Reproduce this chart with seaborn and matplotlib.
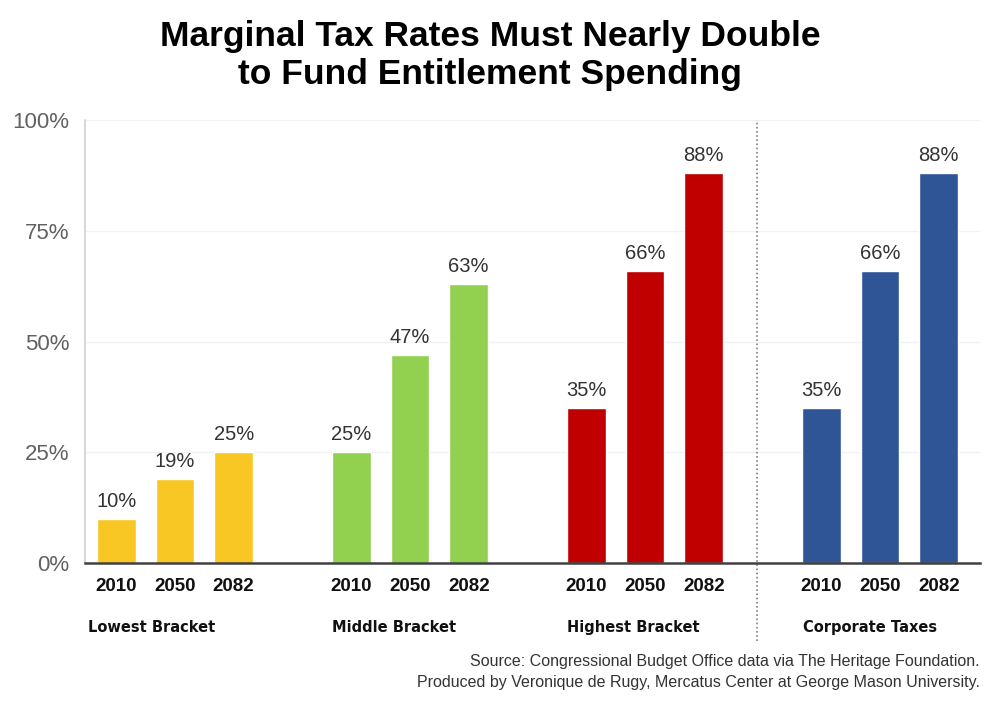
import matplotlib
matplotlib.use("Agg")
import matplotlib.pyplot as plt
import matplotlib.transforms as mtransforms
import seaborn as sns
import pandas as pd

# ---- data ----
groups = ["Lowest Bracket", "Middle Bracket", "Highest Bracket", "Corporate Taxes"]
years = ["2010", "2050", "2082"]
lowest = [10, 19, 25]
middle = [25, 47, 63]
highest = [35, 66, 88]
corporate = [35, 66, 88]
ytick_vals = [0, 25, 50, 75, 100]
ytick_labels = ["0%", "25%", "50%", "75%", "100%"]
colors = ["#F9C724", "#92D050", "#C00000", "#2F5597"]
title = "Marginal Tax Rates Must Nearly Double\nto Fund Entitlement Spending"
source_lines = ["Source: Congressional Budget Office data via The Heritage Foundation.",
                "Produced by Veronique de Rugy, Mercatus Center at George Mason University."]

series = [lowest, middle, highest, corporate]
rows = []
for g, (gname, vals) in enumerate(zip(groups, series)):
    for i, (yr, v) in enumerate(zip(years, vals)):
        rows.append({"pos": 4 * g + i, "group": gname, "year": yr, "value": v})
df = pd.DataFrame(rows)

sns.set_theme(style="white")
plt.rcParams["font.family"] = ["Liberation Sans", "DejaVu Sans"]

fig = plt.figure(figsize=(10, 7.21), dpi=100)
ax = fig.add_axes([0.085, 0.219, 0.895, 0.6144])

sns.barplot(data=df, x="pos", y="value", hue="group", hue_order=groups,
            palette=colors, native_scale=True, dodge=False, width=0.66,
            saturation=1, legend=False, ax=ax)

ax.set_xlim(-0.53, 14.7)
ax.set_ylim(0, 100)
ax.set_yticks(ytick_vals)
ax.set_yticklabels(ytick_labels, fontsize=16, color="#616161")
ax.set_xticks(df["pos"].tolist())
ax.set_xticklabels(df["year"].tolist(), fontsize=13.5, fontweight="bold", color="#111111")
ax.tick_params(axis="x", length=0, pad=11)
ax.tick_params(axis="y", length=0, pad=11)
ax.set_xlabel("")
ax.set_ylabel("")

for v in ytick_vals[1:]:
    ax.axhline(v, color="#EEF3F8", lw=1, zorder=0)

for s in ["top", "right"]:
    ax.spines[s].set_visible(False)
ax.spines["left"].set_color("#D0D0D0")
ax.spines["left"].set_linewidth(1.2)
ax.spines["bottom"].set_color("#404040")
ax.spines["bottom"].set_linewidth(1.8)

# value labels
for p, v in zip(df["pos"], df["value"]):
    ax.text(p, v + 1.8, f"{v}%", ha="center", va="bottom", fontsize=14.5, color="#333333")

# group labels (left-aligned near the first bar of each group)
trans = mtransforms.blended_transform_factory(ax.transData, ax.transAxes)
label_x = [-0.48, 3.68, 7.68, 11.68]
for lx, gname in zip(label_x, groups):
    ax.text(lx, -0.145, gname, transform=trans, ha="left", va="center",
            fontsize=10.5, fontweight="bold", color="#111111", family="DejaVu Sans")

# dotted separator
ax.axvline(10.9, ymin=-0.175, ymax=1.0, color="#808080", lw=1.2, ls=(0, (1, 1.5)),
           clip_on=False)

fig.text(0.49, 0.972, title, ha="center", va="top", fontsize=25.5, fontweight="bold",
         color="#000000", linespacing=1.2)
fig.text(0.98, 0.082, source_lines[0], ha="right", va="center", fontsize=11.5, color="#333333")
fig.text(0.98, 0.054, source_lines[1], ha="right", va="center", fontsize=11.5, color="#333333")

fig.savefig("out.png", dpi=100)
